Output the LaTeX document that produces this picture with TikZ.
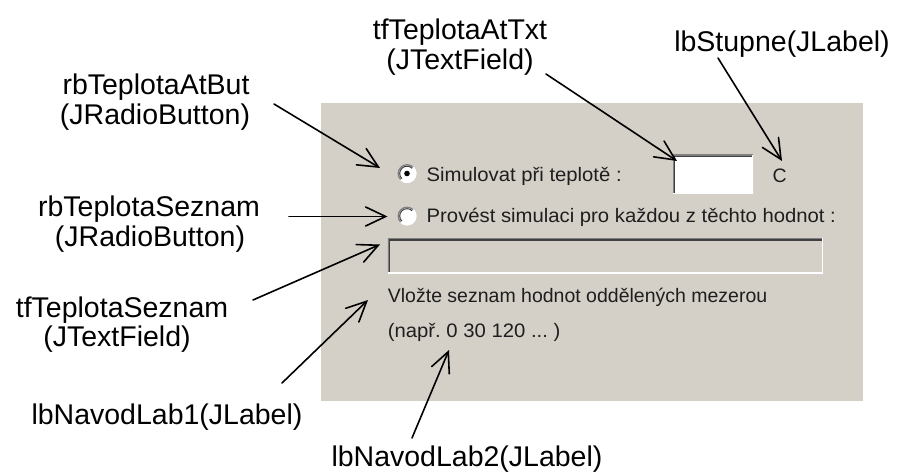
\documentclass[tikz,border=0pt]{standalone}
\usepackage{fontspec}
\setmainfont{Liberation Sans}
\newfontfamily\guiface{Liberation Sans}
\newfontfamily\guiwideface[FakeStretch=1.04]{Liberation Sans}
\usetikzlibrary{arrows.meta}
\definecolor{panelgray}{HTML}{D4D0C8}
\definecolor{bevelgray}{HTML}{808080}
\definecolor{beveldark}{HTML}{404040}
\definecolor{guitext}{HTML}{1E1E1E}
\newcommand\annfont{\fontsize{28.5}{30}\selectfont}
\newcommand\guifont{\guiface\fontsize{19.5}{22}\selectfont}
\newcommand\guiwidefont{\guiwideface\fontsize{19.5}{22}\selectfont}
\frenchspacing

\begin{document}
\begin{tikzpicture}[x=1pt,y=-1pt,
  ann/.style={font=\annfont, inner sep=0pt, anchor=base},
  gui/.style={font=\guifont, text=guitext, inner sep=0pt, anchor=base west},
  guiwide/.style={gui, font=\guiwidefont},
  ptr/.style={line width=1.6pt, line cap=round,
    -{Straight Barb[length=20pt,width=19pt,line cap=round]}},
  panel/.style={fill=panelgray, inner sep=0pt},
  % sunken text field with a classic bevelled border
  field/.style={inner sep=0pt, path picture={
      \draw[bevelgray,line width=2.4pt]
        (path picture bounding box.south west) -- (path picture bounding box.north west)
        -- (path picture bounding box.north east);
      \draw[beveldark,line width=1.2pt]
        ([xshift=1.8pt,yshift=1.2pt]path picture bounding box.south west)
        -- ([xshift=1.8pt,yshift=-1.8pt]path picture bounding box.north west)
        -- ([xshift=-1.2pt,yshift=-1.8pt]path picture bounding box.north east);
      \draw[white,line width=2.4pt]
        (path picture bounding box.south west) -- (path picture bounding box.south east)
        -- (path picture bounding box.north east);
    }},
  radio/.style={circle, fill=white, minimum size=19pt, inner sep=0pt},
]
\useasboundingbox (0,0) rectangle (903,473);

% dialog panel
\node[panel, minimum width=542pt, minimum height=298pt] (panel) at (592,252) {};

% radio buttons
\node[radio] (rbA) at (407,173.5) {};
\node[radio] (rbB) at (407,216) {};
\foreach \r in {rbA,rbB}{
  \draw[bevelgray,line width=1.4pt] ([shift={(135:8.8)}]\r.center) arc[start angle=135,end angle=315,radius=8.8];
  \draw[beveldark,line width=1pt] ([shift={(135:7.3)}]\r.center) arc[start angle=135,end angle=315,radius=7.3];
  \draw[white,line width=1.4pt] ([shift={(315:8.8)}]\r.center) arc[start angle=315,end angle=495,radius=8.8];
}
\fill[black] (rbA.center) circle[radius=2.8];

% dialog texts
\node[guiwide] (simAt) at (426.5,182) {Simulovat při teplotě :};
\node[guiwide] (simList) at (426.5,223) {Provést simulaci pro každou z těchto hodnot :};
\node[gui] (deg) at (772.5,182.5) {C};
\node[gui] (hint1) at (387.7,303) {Vložte seznam hodnot oddělených mezerou};
\node[guiwide] (hint2) at (387.7,337.5) {(např. 0 30 120 ... )};

% text fields
\node[field, fill=white, minimum width=80pt, minimum height=39pt] (tfAt) at (713,174.5) {};
\node[field, fill=panelgray, minimum width=435pt, minimum height=35pt] (tfList) at (605.4,255.8) {};

% component names
\node[ann] (atTxt) at (460,40) {tfTeplotaAtTxt};
\node[ann] (atTxtType) at (460,70) {(JTextField)};
\node[ann] (stupne) at (782,52) {lbStupne(JLabel)};
\node[ann] (atBut) at (156,95) {rbTeplotaAtBut};
\node[ann] (atButType) at (155,125) {(JRadioButton)};
\node[ann] (seznam) at (149,216.7) {rbTeplotaSeznam};
\node[ann] (seznamType) at (150,246.7) {(JRadioButton)};
\node[ann] (tfSez) at (122,317) {tfTeplotaSeznam};
\node[ann] (tfSezType) at (117,346) {(JTextField)};
\node[ann] (nav1) at (167,424) {lbNavodLab1(JLabel)};
\node[ann] (nav2) at (467,466) {lbNavodLab2(JLabel)};

% pointer ends
\coordinate (atTxtFrom) at (546,74);
\coordinate (atTxtTo) at (677,161);
\coordinate (stupneFrom) at (718,58);
\coordinate (stupneTo) at (782,161);
\coordinate (atButFrom) at (274,104);
\coordinate (atButTo) at (380,168);
\coordinate (seznamFrom) at (289,216.5);
\coordinate (seznamTo) at (387.5,216.5);
\coordinate (tfSezFrom) at (253,300);
\coordinate (tfSezTo) at (380,244.5);
\coordinate (nav1From) at (282,383);
\coordinate (nav1To) at (368,300);
\coordinate (nav2From) at (412,438);
\coordinate (nav2To) at (449,350);

% pointers
\draw[ptr] (atTxtFrom) -- (atTxtTo);
\draw[ptr] (stupneFrom) -- (stupneTo);
\draw[ptr] (atButFrom) -- (atButTo);
\draw[ptr] (seznamFrom) -- (seznamTo);
\draw[ptr] (tfSezFrom) -- (tfSezTo);
\draw[ptr] (nav1From) -- (nav1To);
\draw[ptr] (nav2From) -- (nav2To);
\end{tikzpicture}
\end{document}
